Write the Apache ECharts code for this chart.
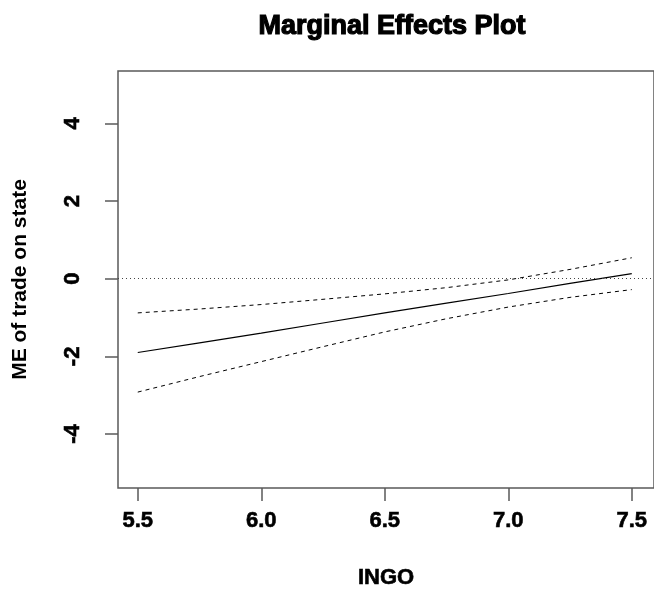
<!DOCTYPE html>
<html>
<head>
<meta charset="utf-8">
<script src="https://cdn.jsdelivr.net/npm/echarts@6/dist/echarts.min.js"></script>
<style>html,body{margin:0;padding:0;background:#fff}#c{width:654px;height:595px}</style>
</head>
<body>
<div id="c"></div>
<script>
// Data
const ingo = [5.5, 5.75, 6.0, 6.25, 6.5, 6.75, 7.0, 7.25, 7.5];
const meEstimate = [-1.90, -1.65, -1.40, -1.14, -0.88, -0.63, -0.38, -0.12, 0.13];
const meUpper = [-0.88, -0.78, -0.665, -0.53, -0.39, -0.23, -0.03, 0.24, 0.54];
const meLower = [-2.92, -2.52, -2.135, -1.75, -1.37, -1.03, -0.73, -0.48, -0.28];
const xTicks = [5.5, 6.0, 6.5, 7.0, 7.5];
const yTicks = [-4, -2, 0, 2, 4];
const referenceLine = 0;

const pairs = (ys) => ingo.map((x, i) => [x, ys[i]]);
const FONT = 'Liberation Sans';
const AX = '#5a5a5a';

const chart = echarts.init(document.getElementById('c'), null, {renderer: 'canvas'});
chart.setOption({
  animation: false,
  backgroundColor: '#ffffff',
  title: {
    text: 'Marginal Effects Plot',
    left: 387, top: 8, textAlign: 'center',
    textStyle: {fontFamily: FONT, fontWeight: 'bold', fontSize: 27, color: '#000',
      textBorderColor: '#000', textBorderWidth: 1.2}
  },
  grid: {
    left: 118, top: 71, width: 541, height: 417,
    show: true, borderColor: AX, borderWidth: 1.5, backgroundColor: 'transparent'
  },
  xAxis: {
    type: 'value', min: 5.42, max: 7.59,
    name: 'INGO', nameLocation: 'middle', nameGap: 79,
    nameTextStyle: {fontFamily: FONT, fontWeight: 'bold', fontSize: 22, color: '#000',
      textBorderColor: '#000', textBorderWidth: 0.6},
    axisLine: {show: false, onZero: false},
    splitLine: {show: false},
    axisTick: {show: true, inside: false, length: 13, customValues: xTicks, lineStyle: {color: AX, width: 1.5}},
    axisLabel: {customValues: xTicks, margin: 22, fontFamily: FONT, fontWeight: 'bold', fontSize: 22, color: '#000',
      textBorderColor: '#000', textBorderWidth: 0.6,
      formatter: v => v.toFixed(1)}
  },
  yAxis: {
    type: 'value', min: -5.39, max: 5.35,
    name: 'ME of trade on state', nameLocation: 'middle', nameGap: 87,
    nameTextStyle: {fontFamily: FONT, fontWeight: 'bold', fontSize: 21, color: '#000'},
    axisLine: {show: false, onZero: false},
    splitLine: {show: false},
    axisTick: {show: true, inside: false, length: 13, customValues: yTicks, lineStyle: {color: AX, width: 1.5}},
    axisLabel: {customValues: yTicks, rotate: 90, margin: 34, fontFamily: FONT, fontWeight: 'bold', fontSize: 22, color: '#000',
      textBorderColor: '#000', textBorderWidth: 0.6,
      formatter: v => String(v)}
  },
  series: [
    {
      type: 'line', data: pairs(meEstimate), showSymbol: false, symbol: 'none',
      lineStyle: {color: '#000', width: 1.2},
      markLine: {
        silent: true, symbol: 'none', label: {show: false},
        lineStyle: {color: '#444', width: 1, type: [1, 3]},
        data: [{yAxis: referenceLine}]
      }
    },
    {
      type: 'line', data: pairs(meUpper), showSymbol: false, symbol: 'none',
      lineStyle: {color: '#000', width: 1, type: [4, 4]}
    },
    {
      type: 'line', data: pairs(meLower), showSymbol: false, symbol: 'none',
      lineStyle: {color: '#000', width: 1, type: [4, 4]}
    }
  ]
});
</script>
</body>
</html>
